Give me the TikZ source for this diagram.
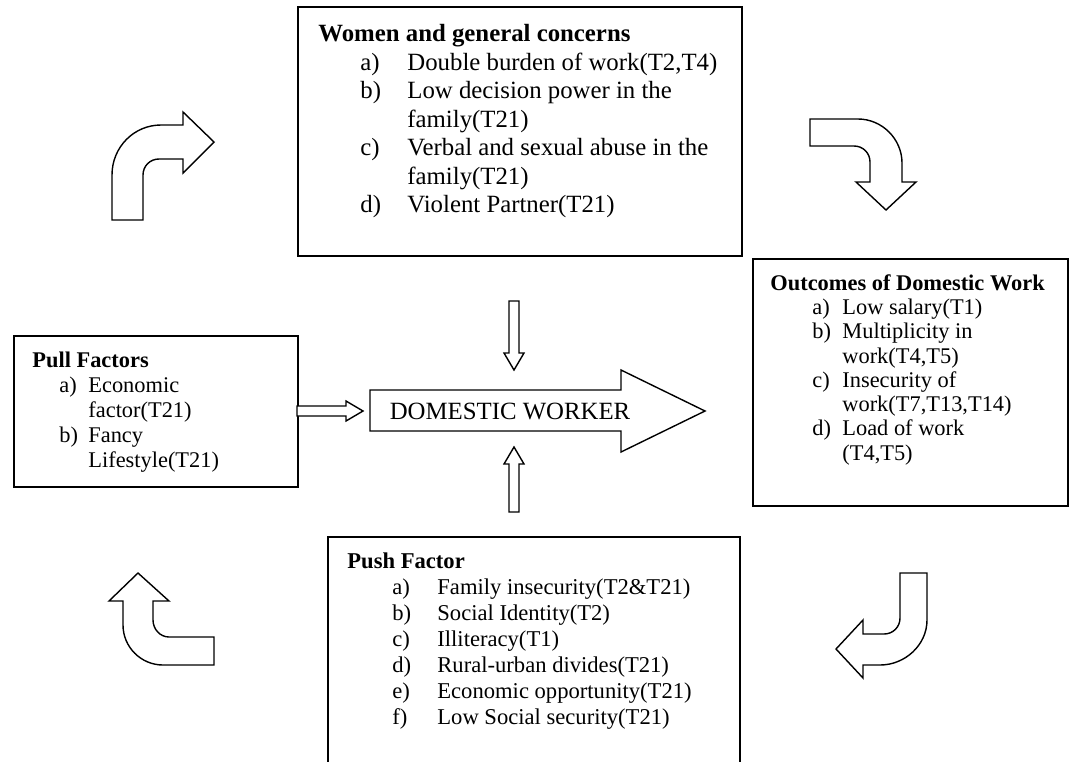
\documentclass[tikz,border=0pt]{standalone}
\usepackage{fontspec}
\setmainfont{Liberation Serif}
\usetikzlibrary{calc}

\newcommand{\itemlist}[3]{\begin{tabular}[t]{@{\hspace{#1}}p{#2}@{}l@{}}#3\end{tabular}}

\begin{document}
\begin{tikzpicture}[x=0.5pt, y=-0.5pt,
  box/.style={draw, line width=0.8pt, inner sep=0pt, anchor=north west},
  txt/.style={inner sep=0pt, anchor=north west, align=left},
  hollow/.style={draw, line width=0.7pt, fill=white, line join=miter}]
  \useasboundingbox (0,0) rectangle (1069,761);

  % boxes
  \node[box, minimum width=222pt, minimum height=124.5pt] (women) at (297,6) {};
  \node[box, minimum width=157.5pt, minimum height=123.5pt] (outcome) at (752,258) {};
  \node[box, minimum width=142pt, minimum height=75.5pt] (pull) at (13,335) {};
  \node[box, minimum width=206pt, minimum height=130pt] (push) at (327,536) {};

  % box texts
  \node[txt, font=\fontsize{12.4}{14.25}\selectfont] (womentxt) at (318,24)
    {\textbf{Women and general concerns}\\
     \itemlist{21pt}{23.5pt}{a) & Double burden of work(T2,T4)\\
       b) & Low decision power in the\\ & family(T21)\\
       c) & Verbal and sexual abuse in the\\ & family(T21)\\
       d) & Violent Partner(T21)}};
  \node[txt, font=\fontsize{11.2}{12.15}\selectfont] (outcometxt) at (770,274)
    {\textbf{Outcomes of Domestic Work}\\
     \itemlist{21pt}{15pt}{a) & Low salary(T1)\\
       b) & Multiplicity in\\ & work(T4,T5)\\
       c) & Insecurity of\\ & work(T7,T13,T14)\\
       d) & Load of work\\ & (T4,T5)}};
  \node[txt, font=\fontsize{11.2}{12.5}\selectfont] (pulltxt) at (32,352)
    {\textbf{Pull Factors}\\
     \itemlist{13.5pt}{14.5pt}{a) & Economic\\ & factor(T21)\\
       b) & Fancy\\ & Lifestyle(T21)}};
  \node[txt, font=\fontsize{11.3}{13}\selectfont] (pushtxt) at (347,552)
    {\textbf{Push Factor}\\
     \itemlist{22.5pt}{22.5pt}{a) & Family insecurity(T2\&T21)\\
       b) & Social Identity(T2)\\
       c) & Illiteracy(T1)\\
       d) & Rural-urban divides(T21)\\
       e) & Economic opportunity(T21)\\
       f) & Low Social security(T21)}};

  % big arrow
  \draw[hollow] (370,390) -- (621,390) -- (621,370) -- (705,411) -- (621,452)
    -- (621,431) -- (370,431) -- cycle;
  \node[inner sep=0pt, font=\fontsize{12.4}{14}\selectfont] (dw) at (510,411) {DOMESTIC WORKER};

  % small arrows into the worker (tip x/y, angle, length)
  \foreach \tx/\ty/\ang/\len in {363/411/0/66, 514/370/-90/69, 514/447/90/65}{
    \begin{scope}[shift={(\tx,\ty)}, rotate=\ang]
      \draw[hollow] (0,0) -- (-17,10) -- (-17,5) -- (-\len,5) -- (-\len,-5)
        -- (-17,-5) -- (-17,-10) -- cycle;
    \end{scope}}

  % curved arrows round the cycle
  \draw[hollow] (112,220) -- (112,175) .. controls (112,147) and (134,125) .. (161,125)
    -- (183,125) -- (183,112) -- (214,142) -- (183,173) -- (183,159) -- (159,159)
    .. controls (150,159) and (143,166) .. (143,175) -- (143,220) -- cycle;
  \draw[hollow] (810,119) -- (858,119) .. controls (882,119) and (902,139) .. (902,163)
    -- (902,182) -- (916,182) -- (886,210) -- (856,182) -- (870,182) -- (870,162)
    .. controls (870,153) and (863,146) .. (854,146) -- (810,146) -- cycle;
  \draw[hollow] (900,573) -- (927,573) -- (927,620) .. controls (927,645) and (905,665) .. (880,665)
    -- (863,665) -- (863,678) -- (836,649) -- (863,620) -- (863,634) -- (884,634)
    .. controls (893,634) and (900,627) .. (900,618) -- cycle;
  \draw[hollow] (138,573) -- (169,601) -- (153,601) -- (153,620)
    .. controls (153,629) and (160,637) .. (169,637) -- (214,637) -- (214,665) -- (163,665)
    .. controls (141,665) and (123,647) .. (123,625) -- (123,601) -- (109,601) -- cycle;
\end{tikzpicture}
\end{document}
